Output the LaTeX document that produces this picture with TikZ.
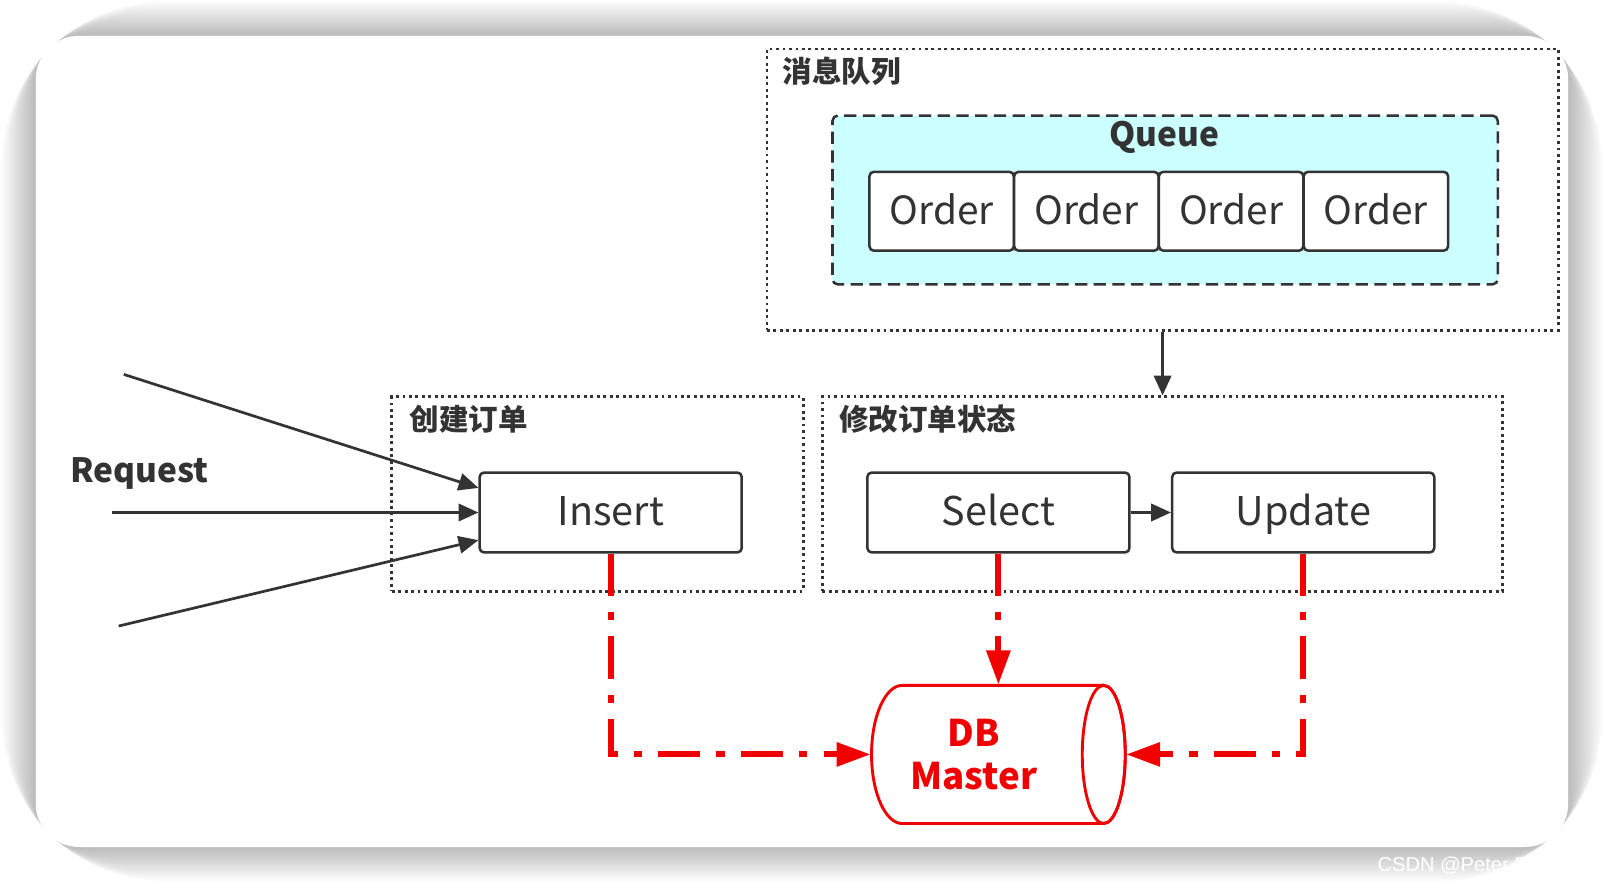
\documentclass[tikz,border=0pt]{standalone}
\usepackage{fontspec}
\setmainfont{Noto Sans CJK SC}
\newfontfamily\markfont{Liberation Sans}
\usetikzlibrary{arrows.meta}
\definecolor{linegray}{HTML}{333333}
\definecolor{queuecyan}{HTML}{CCFFFF}
\definecolor{dbred}{HTML}{F00000}
\begin{document}
\begin{tikzpicture}[x=0.01cm,y=0.01cm,
		box/.style={draw=linegray,line width=0.7pt,rounded corners=1.2pt,fill=white,minimum width=2.56cm,minimum height=0.78cm,text=linegray,text height=9.3pt,text depth=2pt,font=\fontsize{11}{13}\selectfont},
		orderbox/.style={box,minimum width=1.41cm,minimum height=0.77cm,font=\fontsize{10.8}{13}\selectfont},
		frame/.style={draw=linegray,line width=0.8pt,dash pattern=on 0.8pt off 1pt,inner sep=0pt},
		title/.style={anchor=west,text=linegray,font=\bfseries\fontsize{8.2}{10}\selectfont},
		arr/.style={draw=linegray,line width=0.75pt,-{Triangle[length=5.5pt,width=4.8pt]}},
		dbline/.style={draw=dbred,line width=1.7pt,dash pattern=on 11.7pt off 4.5pt on 2.3pt off 4.5pt,-{Triangle[length=9.5pt,width=6.4pt]}}]
	\useasboundingbox (0,0) rectangle (1568,-864);
	% card with shadow
	\foreach \i in {1,...,34}
		\fill[black,opacity=0.007,rounded corners=12+\i] (35-\i,-35+\i) rectangle (1533+\i,-828-\i);
	\fill[white,rounded corners=12] (35,-35) rectangle (1533,-828);
	\node[anchor=west,inner sep=0pt,text=white,font=\markfont\fontsize{5.6}{7}\selectfont] (mark) at (1346,-846) {CSDN @Peter Pan 1231};
	% message queue
	\node[frame,minimum width=7.73cm,minimum height=2.75cm] (mq) at (1136.5,-185.5) {};
	\node[title] (mqlabel) at (753,-70) {消息队列};
	\node[draw=linegray,line width=0.7pt,dash pattern=on 3.4pt off 1.8pt,fill=queuecyan,rounded corners=1.5pt,minimum width=6.5cm,minimum height=1.65cm] (queue) at (1139,-195.5) {};
	\node[text=linegray,font=\bfseries\fontsize{9.3}{12}\selectfont] (queuelabel) at (1138,-134) {Queue};
	\foreach \i in {0,...,3}
		\node[orderbox] (order\i) at (920.5+141.5*\i,-206.5) {Order};
	% create order
	\node[frame,minimum width=4.02cm,minimum height=1.9cm] (create) at (584,-483) {};
	\node[title] (createlabel) at (388,-410) {创建订单};
	\node[box] (ins) at (597,-501) {Insert};
	% change order state
	\node[frame,minimum width=6.65cm,minimum height=1.9cm] (mod) at (1136.5,-483) {};
	\node[title] (modlabel) at (808,-410) {修改订单状态};
	\node[box] (sel) at (976,-501) {Select};
	\node[box] (upd) at (1274,-501) {Update};
	\draw[arr] (mq.south) -- (mod.north);
	\draw[arr] (sel) -- (upd);
	% requests
	\node[text=linegray,font=\bfseries\fontsize{9.3}{12}\selectfont] (req) at (136,-463) {Request};
	\coordinate (r1) at (121,-366);
	\coordinate (r2) at (109,-501);
	\coordinate (r3) at (116,-612);
	\draw[arr] (r1) -- ([yshift=0.24cm]ins.west);
	\draw[arr] (r2) -- (ins.west);
	\draw[arr] (r3) -- ([yshift=-0.27cm]ins.west);
	% database
	\node[minimum width=2.48cm,minimum height=1.35cm,inner sep=0pt] (db) at (976,-737.5) {};
	\draw[dbred,line width=0.8pt,fill=white] (1079,-670) -- (882,-670) arc (90:270:0.3cm and 0.675cm) -- (1079,-805) arc (-90:90:0.21cm and 0.675cm) -- cycle;
	\draw[dbred,line width=0.8pt] (1079,-737.5) ellipse (0.21cm and 0.675cm);
	\node[align=center,text=dbred,font=\bfseries\fontsize{10.2}{12}\selectfont] (dblabel) at (952,-738) {DB\\Master};
	\draw[dbline] (ins.south) |- (db.west);
	\draw[dbline] (sel.south) -- (sel.south |- db.north);
	\draw[dbline] (upd.south) |- (db.east);
\end{tikzpicture}
\end{document}
